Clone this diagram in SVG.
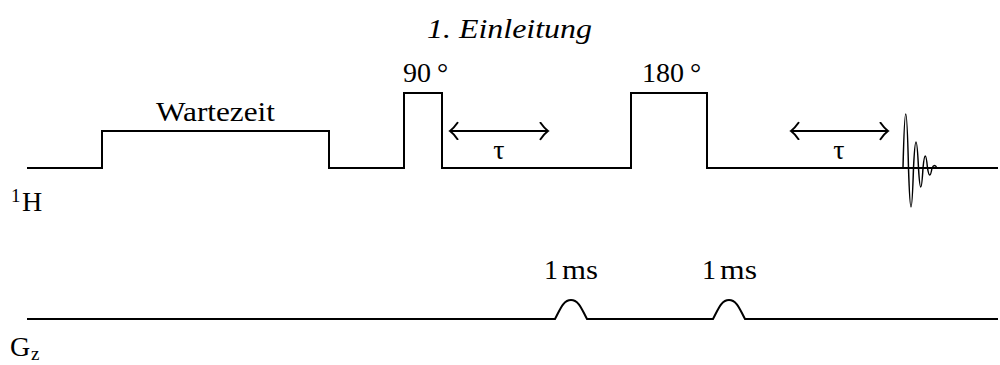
<svg xmlns="http://www.w3.org/2000/svg" width="1000" height="365" viewBox="0 0 1000 365" font-family="'Liberation Serif', 'DejaVu Serif', serif">
<style>
text{font-family:"Liberation Serif","DejaVu Serif",serif;fill:#000}
.lbl{font-size:28px}
.sub{font-size:19px}
.seq{fill:none;stroke:#000;stroke-width:2;stroke-linejoin:miter}
.arr{fill:none;stroke:#000;stroke-width:2}
.echo{fill:none;stroke:#000;stroke-width:1.5}
</style>
<defs>
<marker id="chev" markerUnits="userSpaceOnUse" viewBox="0 0 12 20" refX="10" refY="9" markerWidth="12" markerHeight="20" orient="auto-start-reverse">
<path d="M2.5,0.8 Q6.5,6.5 10,9 Q6.5,11.5 2.5,17.2" fill="none" stroke="#000" stroke-width="2" stroke-linecap="round"/>
</marker>
</defs>
<rect width="1000" height="365" fill="#fff"/>
<text id="title" x="427" y="38" font-size="28" font-style="italic" textLength="165" lengthAdjust="spacingAndGlyphs">1. Einleitung</text>

<g id="channel-H">
<path class="seq" d="M27,168 H102 V131 H329 V168 H404 V93 H442 V168 H631 V93 H707 V168 H998"/>
<path class="echo" d="M903,168 C904.8,96 906.7,96 908.5,168 C910.2,220 911.8,220 913.5,168 C915.2,133.3 916.8,133.3 918.5,168 C920,193.3 921.5,193.3 923,168 C924.5,152 926,152 927.5,168 C929,177.3 930.5,177.3 932,168 C933.7,164.7 935.3,164.7 937,168"/>
<text class="lbl" x="11" y="211"><tspan class="sub" y="202">1</tspan><tspan x="22" y="211">H</tspan></text>
<text class="lbl" x="156" y="121" textLength="119" lengthAdjust="spacingAndGlyphs">Wartezeit</text>
<text class="lbl" x="403" y="82">90<tspan x="437" y="82">°</tspan></text>
<text class="lbl" x="642" y="82">180<tspan x="690" y="82">°</tspan></text>
</g>

<g id="connectors">
<line class="arr" x1="450" y1="131" x2="548" y2="131" marker-start="url(#chev)" marker-end="url(#chev)"/>
<line class="arr" x1="791" y1="131" x2="888" y2="131" marker-start="url(#chev)" marker-end="url(#chev)"/>
<text class="lbl" x="499" y="159" text-anchor="middle">τ</text>
<text class="lbl" x="839" y="159" text-anchor="middle">τ</text>
</g>

<g id="channel-Gz">
<path class="seq" d="M27,319 H555 C560,310 563,300 571,300 C579,300 582,310 587,319 H713 C718,310 721,300 729,300 C737,300 740,310 745,319 H998"/>
<text class="lbl" x="544" y="279">1<tspan x="562" textLength="36" lengthAdjust="spacingAndGlyphs">ms</tspan></text>
<text class="lbl" x="702" y="279">1<tspan x="720" textLength="37" lengthAdjust="spacingAndGlyphs">ms</tspan></text>
<text class="lbl" x="10" y="356">G<tspan class="sub" x="31" y="360">z</tspan></text>
</g>
</svg>
